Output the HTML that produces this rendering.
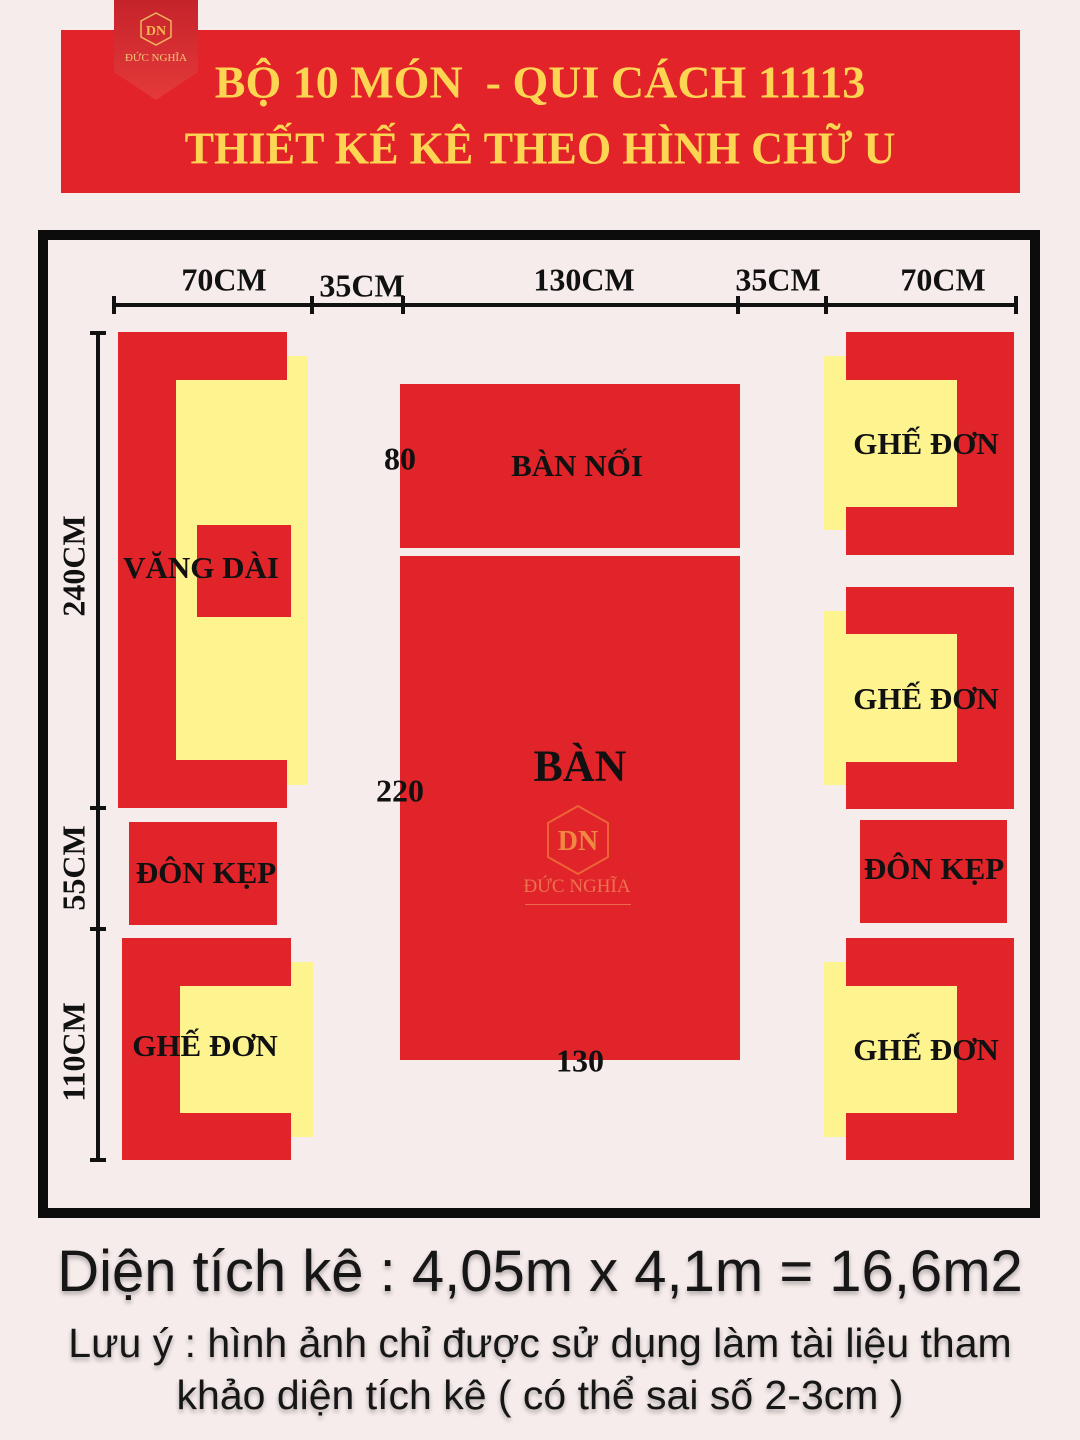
<!DOCTYPE html>
<html><head><meta charset="utf-8"><style>
*{margin:0;padding:0;box-sizing:border-box}
body{width:1080px;height:1440px;background:#f6eceb;position:relative;overflow:hidden;font-family:"Liberation Serif",serif}
.a{position:absolute}
.R{position:absolute;background:#e1242a}
.Y{position:absolute;background:#fdf38f}
.K{position:absolute;background:#111}
.t{position:absolute;font-weight:bold;color:#111;white-space:nowrap;transform:translate(-50%,-50%);font-family:"Liberation Serif",serif}
.s{position:absolute;white-space:nowrap;left:0;width:1080px;text-align:center;font-family:"Liberation Sans","DejaVu Sans",sans-serif;color:#161616;text-shadow:0 3px 5px rgba(0,0,0,.3)}
</style></head><body>
<div class="R" style="left:61px;top:30px;width:959px;height:163px;background:#e3232a"></div>
<div class="a" style="left:114px;top:0;width:84px;height:100px;background:linear-gradient(#c5232b,#e53a3a);clip-path:polygon(0 0,100% 0,100% 72%,50% 100%,0 72%)"></div>
<svg class="a" style="left:140px;top:12px" width="32" height="34"><polygon points="16,1 31,9 31,25 16,33 1,25 1,9" fill="none" stroke="#f0b55c" stroke-width="1.5"/><text x="16" y="23" text-anchor="middle" font-family="Liberation Serif" font-weight="bold" font-size="14" fill="#f5b84e">DN</text></svg>
<div class="a" style="left:114px;top:52px;width:84px;text-align:center;color:#f3c77a;font-size:11px">ĐỨC NGHĨA</div>
<div class="t" style="left:540px;top:82px;font-size:46px;color:#fcd653">BỘ 10 MÓN&nbsp; - QUI CÁCH 11113</div>
<div class="t" style="left:540px;top:148px;font-size:46px;color:#fcd653;transform:translate(-50%,-50%) scaleX(0.96)">THIẾT KẾ KÊ THEO HÌNH CHỮ U</div>

<div class="a" style="left:38px;top:230px;width:1002px;height:988px;border:10px solid #0c0c0c"></div>

<div class="K" style="left:113px;top:303px;width:904px;height:4px"></div>
<div class="K" style="left:112px;top:296px;width:4px;height:18px"></div>
<div class="K" style="left:310px;top:296px;width:4px;height:18px"></div>
<div class="K" style="left:401px;top:296px;width:4px;height:18px"></div>
<div class="K" style="left:736px;top:296px;width:4px;height:18px"></div>
<div class="K" style="left:824px;top:296px;width:4px;height:18px"></div>
<div class="K" style="left:1014px;top:296px;width:4px;height:18px"></div>
<div class="t" style="left:224px;top:280px;font-size:32px">70CM</div>
<div class="t" style="left:362px;top:286px;font-size:32px">35CM</div>
<div class="t" style="left:584px;top:280px;font-size:32px">130CM</div>
<div class="t" style="left:778px;top:280px;font-size:32px">35CM</div>
<div class="t" style="left:943px;top:280px;font-size:32px">70CM</div>

<div class="K" style="left:96px;top:333px;width:4px;height:828px"></div>
<div class="K" style="left:90px;top:331px;width:16px;height:4px"></div>
<div class="K" style="left:90px;top:806px;width:16px;height:4px"></div>
<div class="K" style="left:90px;top:927px;width:16px;height:4px"></div>
<div class="K" style="left:90px;top:1158px;width:16px;height:4px"></div>
<div class="t" style="left:74px;top:566px;font-size:32px;transform:translate(-50%,-50%) rotate(-90deg)">240CM</div>
<div class="t" style="left:74px;top:868px;font-size:32px;transform:translate(-50%,-50%) rotate(-90deg)">55CM</div>
<div class="t" style="left:74px;top:1052px;font-size:32px;transform:translate(-50%,-50%) rotate(-90deg)">110CM</div>

<div class="Y" style="left:176px;top:356px;width:132px;height:429px"></div>
<div class="R" style="left:118px;top:332px;width:58px;height:476px"></div>
<div class="R" style="left:118px;top:332px;width:169px;height:48px"></div>
<div class="R" style="left:118px;top:760px;width:169px;height:48px"></div>
<div class="R" style="left:197px;top:525px;width:94px;height:92px"></div>
<div class="t" style="left:201px;top:568px;font-size:31px">VĂNG DÀI</div>

<div class="R" style="left:129px;top:822px;width:148px;height:103px"></div>
<div class="t" style="left:206px;top:873px;font-size:31px">ĐÔN KẸP</div>

<div class="Y" style="left:180px;top:962px;width:133px;height:175px"></div>
<div class="R" style="left:122px;top:938px;width:58px;height:222px"></div>
<div class="R" style="left:122px;top:938px;width:169px;height:48px"></div>
<div class="R" style="left:122px;top:1113px;width:169px;height:47px"></div>
<div class="t" style="left:205px;top:1046px;font-size:31px">GHẾ ĐƠN</div>

<div class="Y" style="left:824px;top:356px;width:133px;height:174px"></div>
<div class="R" style="left:957px;top:332px;width:57px;height:223px"></div>
<div class="R" style="left:846px;top:332px;width:168px;height:48px"></div>
<div class="R" style="left:846px;top:507px;width:168px;height:48px"></div>
<div class="t" style="left:926px;top:444px;font-size:31px">GHẾ ĐƠN</div>

<div class="Y" style="left:824px;top:611px;width:133px;height:174px"></div>
<div class="R" style="left:957px;top:587px;width:57px;height:222px"></div>
<div class="R" style="left:846px;top:587px;width:168px;height:47px"></div>
<div class="R" style="left:846px;top:762px;width:168px;height:47px"></div>
<div class="t" style="left:926px;top:699px;font-size:31px">GHẾ ĐƠN</div>

<div class="R" style="left:860px;top:820px;width:147px;height:103px"></div>
<div class="t" style="left:934px;top:869px;font-size:31px">ĐÔN KẸP</div>

<div class="Y" style="left:824px;top:962px;width:133px;height:175px"></div>
<div class="R" style="left:957px;top:938px;width:57px;height:222px"></div>
<div class="R" style="left:846px;top:938px;width:168px;height:48px"></div>
<div class="R" style="left:846px;top:1113px;width:168px;height:47px"></div>
<div class="t" style="left:926px;top:1050px;font-size:31px">GHẾ ĐƠN</div>

<div class="R" style="left:400px;top:384px;width:340px;height:164px"></div>
<div class="R" style="left:400px;top:556px;width:340px;height:504px"></div>
<div class="t" style="left:577px;top:466px;font-size:31px">BÀN NỐI</div>
<div class="t" style="left:400px;top:459px;font-size:32px">80</div>
<div class="t" style="left:580px;top:766px;font-size:44px">BÀN</div>
<div class="t" style="left:400px;top:791px;font-size:32px">220</div>
<div class="t" style="left:580px;top:1061px;font-size:32px">130</div>
<svg class="a" style="left:545px;top:804px" width="66" height="72"><polygon points="33,2 63,19 63,53 33,70 3,53 3,19" fill="none" stroke="#f0733a" stroke-width="2" opacity=".8"/><text x="33" y="46" text-anchor="middle" font-family="Liberation Serif" font-weight="bold" font-size="28" fill="#f39a47" opacity=".85">DN</text></svg>
<div class="a" style="left:500px;top:876px;width:154px;text-align:center;color:#f07f55;font-size:19px;opacity:.85">ĐỨC NGHĨA</div>
<div class="a" style="left:525px;top:904px;width:106px;height:1px;background:#f08a5a;opacity:.7"></div>

<div class="s" style="top:1238px;font-size:58px">Diện tích kê : 4,05m x 4,1m = 16,6m2</div>
<div class="s" style="top:1320px;font-size:41px">Lưu ý : hình ảnh chỉ được sử dụng làm tài liệu tham</div>
<div class="s" style="top:1372px;font-size:41px">khảo diện tích kê ( có thể sai số 2-3cm )</div>
</body></html>
